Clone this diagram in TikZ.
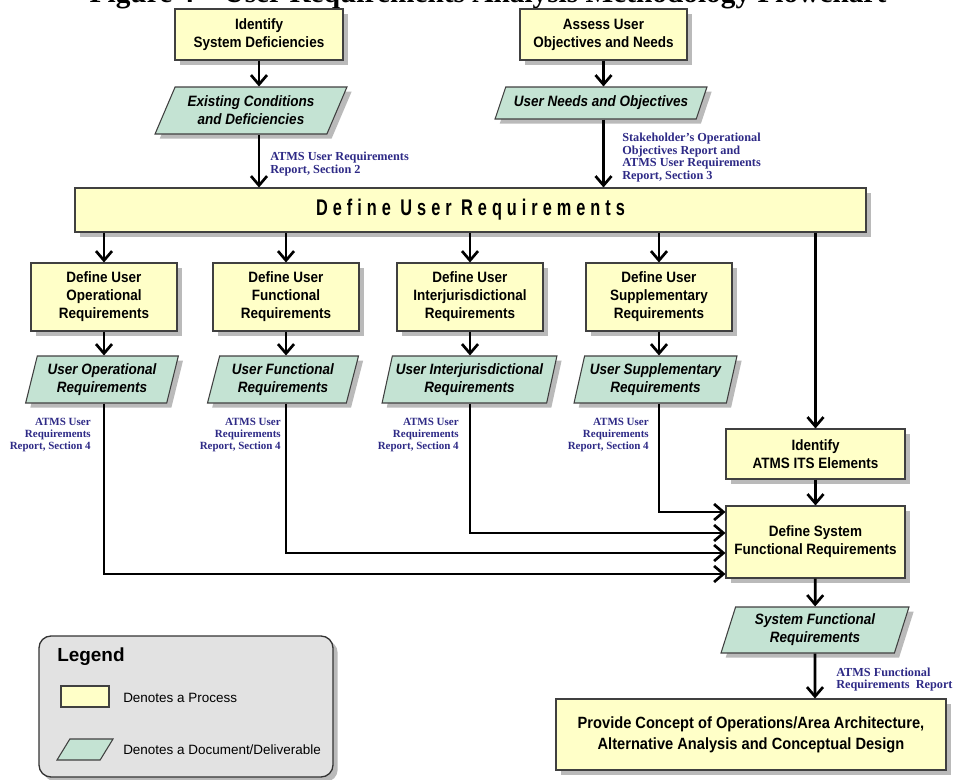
\documentclass[tikz,border=0pt]{standalone}
\usepackage{fontspec}
\setmainfont{Liberation Serif}
\newfontfamily\boxfont[FakeStretch=0.9]{Liberation Sans}
\newfontfamily\legfont{Liberation Sans}
\newfontfamily\headfont[FakeStretch=0.72,LetterSpace=22]{Liberation Sans}
\usetikzlibrary{arrows.meta,shapes.geometric,shadows}
\definecolor{procyellow}{HTML}{FFFFC8}
\definecolor{docgreen}{HTML}{C4E3D3}
\definecolor{refblue}{HTML}{2E2A86}
\definecolor{legendgray}{HTML}{E2E2E2}
\tikzset{
	shadowed/.style={drop shadow={shadow xshift=3.5pt,shadow yshift=-3.5pt,fill=black!45,opacity=0.6}},
	procbox/.style={rectangle,draw=black!75,line width=0.8pt,fill=procyellow,align=center,inner sep=0pt,
		font=\boxfont\bfseries\fontsize{11.25pt}{13.5pt}\selectfont},
	process/.style={procbox,shadowed},
	docbox/.style={trapezium,trapezium stretches=true,draw=black!75,line width=0.8pt,fill=docgreen,align=center,inner sep=0pt,
		font=\boxfont\bfseries\itshape\fontsize{11.25pt}{13.5pt}\selectfont},
	document/.style={docbox,shadowed},
	flow/.style={line width=2pt,-{Straight Barb[length=7pt,width=12pt]}},
	reflabel/.style={text=refblue,inner sep=0pt,font=\bfseries\fontsize{9.2pt}{9.6pt}\selectfont},
	smallref/.style={reflabel,anchor=east,align=right,font=\bfseries\fontsize{8.25pt}{9pt}\selectfont},
}
\begin{document}
\begin{tikzpicture}[x=0.75pt,y=-0.75pt]
	\useasboundingbox (0,0) rectangle (953,779);%Bildrand
	\node[anchor=base,font=\bfseries\fontsize{22pt}{24pt}\selectfont] (title) at (488,2.5) {Figure 4 – User Requirements Analysis Methodology Flowchart};%Titel, oben abgeschnitten
	\node[process,minimum width=126pt,minimum height=38.25pt] (sysdef) at (259,34.5) {Identify\\System Deficiencies};
	\node[process,minimum width=125.25pt,minimum height=38.25pt] (assess) at (603.5,34.5) {Assess User\\Objectives and Needs};
	\node[document,trapezium left angle=60,trapezium right angle=120,minimum width=144pt,minimum height=35.25pt] (existdoc) at (251,110.5) {Existing Conditions\\and Deficiencies};
	\node[document,trapezium left angle=55,trapezium right angle=125,minimum width=159pt,minimum height=24pt] (needsdoc) at (601,103) {User Needs and Objectives};
	\node[process,font=\headfont\bfseries\fontsize{17pt}{20pt}\selectfont,minimum width=593.25pt,minimum height=33pt] (userreq) at (470.5,210) {Define User Requirements};
	% vier Teilprozesse
	\node[process,minimum width=109.5pt,minimum height=51pt] (opdef) at (104,297) {Define User\\Operational\\Requirements};
	\node[process,minimum width=109.5pt,minimum height=51pt] (fundef) at (286,297) {Define User\\Functional\\Requirements};
	\node[process,minimum width=109.5pt,minimum height=51pt] (jurdef) at (470,297) {Define User\\Interjurisdictional\\Requirements};
	\node[process,minimum width=109.5pt,minimum height=51pt] (supdef) at (659,297) {Define User\\Supplementary\\Requirements};
	\node[document,trapezium left angle=73,trapezium right angle=107,minimum width=115.5pt,minimum height=35.25pt] (opdoc) at (102,379.5) {User Operational\\Requirements};
	\node[document,trapezium left angle=73,trapezium right angle=107,minimum width=114pt,minimum height=35.25pt] (fundoc) at (283,379.5) {User Functional\\Requirements};
	\node[document,trapezium left angle=73,trapezium right angle=107,minimum width=131.25pt,minimum height=35.25pt] (jurdoc) at (469.5,379.5) {User Interjurisdictional\\Requirements};
	\node[document,trapezium left angle=73,trapezium right angle=107,minimum width=122.25pt,minimum height=35.25pt] (supdoc) at (655.5,379.5) {User Supplementary\\Requirements};
	% rechte Spalte
	\node[process,minimum width=134.25pt,minimum height=37.5pt] (itselem) at (815.5,454) {Identify\\ATMS ITS Elements};
	\node[process,minimum width=134.25pt,minimum height=54pt] (sysfun) at (815.5,542) {Define System\\Functional Requirements};
	\node[document,trapezium left angle=71,trapezium right angle=109,minimum width=141pt,minimum height=34.5pt] (sysdoc) at (815,630) {System Functional\\Requirements};
	\node[process,font=\boxfont\bfseries\fontsize{12.2pt}{15.75pt}\selectfont,minimum width=292.5pt,minimum height=53.25pt] (concept) at (751,734.5) {Provide Concept of Operations/Area Architecture,\\Alternative Analysis and Conceptual Design};
	% Quellenangaben
	\node[reflabel,anchor=west,align=left] (refsec2) at (270,164) {ATMS User Requirements\\Report, Section 2};
	\node[reflabel,anchor=west,align=left] (refsec3) at (622,157.5) {Stakeholder's Operational\\Objectives Report and\\ATMS User Requirements\\Report, Section 3};
	\node[smallref] (refopsec4) at (91,435.5) {ATMS User\\Requirements\\Report, Section 4};
	\node[smallref] (reffunsec4) at (281,435.5) {ATMS User\\Requirements\\Report, Section 4};
	\node[smallref] (refjursec4) at (459,435.5) {ATMS User\\Requirements\\Report, Section 4};
	\node[smallref] (refsupsec4) at (649,435.5) {ATMS User\\Requirements\\Report, Section 4};
	\node[reflabel,anchor=west,align=left] (reffun) at (836,679.5) {ATMS Functional\\Requirements\ \ Report};
	% Pfeile
	\draw[flow] (sysdef) -- (sysdef |- existdoc.north);
	\draw[flow] (existdoc.south -| sysdef) -- (sysdef |- userreq.north);
	\draw[flow] (assess) -- (assess |- needsdoc.north);
	\draw[flow] (needsdoc.south -| assess) -- (assess |- userreq.north);
	\draw[flow] (userreq.south -| opdef) -- (opdef);
	\draw[flow] (userreq.south -| fundef) -- (fundef);
	\draw[flow] (userreq.south -| jurdef) -- (jurdef);
	\draw[flow] (userreq.south -| supdef) -- (supdef);
	\draw[flow] (userreq.south -| itselem) -- (itselem);
	\draw[flow] (opdef) -- (opdef |- opdoc.north);
	\draw[flow] (fundef) -- (fundef |- fundoc.north);
	\draw[flow] (jurdef) -- (jurdef |- jurdoc.north);
	\draw[flow] (supdef) -- (supdef |- supdoc.north);
	\draw[flow] (supdoc.south -| supdef) |- ([yshift=22.5pt]sysfun.west);
	\draw[flow] (jurdoc.south -| jurdef) |- ([yshift=6.75pt]sysfun.west);
	\draw[flow] (fundoc.south -| fundef) |- ([yshift=-8.25pt]sysfun.west);
	\draw[flow] (opdoc.south -| opdef) |- ([yshift=-24pt]sysfun.west);
	\draw[flow] (itselem) -- (sysfun);
	\draw[flow] (sysfun) -- (sysdoc);
	\draw[flow] (sysdoc) -- (sysdoc |- concept.north);
	% Legende
	\node[draw=black!80,line width=1pt,fill=legendgray,rounded corners=9pt,minimum width=220.5pt,minimum height=105.75pt,shadowed] (legend) at (186,706.5) {};
	\node[anchor=west,inner sep=0pt,font=\legfont\bfseries\fontsize{14.2pt}{16pt}\selectfont] (legtitle) at (57,657) {Legend};
	\node[procbox,minimum width=36pt,minimum height=15.75pt] (legproc) at (85,696.5) {};
	\node[docbox,inner sep=2pt,trapezium left angle=67,trapezium right angle=113,minimum width=42pt,minimum height=15.75pt] (legdoc) at (85,749.5) {};
	\node[anchor=west,inner sep=0pt,font=\legfont\fontsize{10.1pt}{12pt}\selectfont] (legproctext) at (123,698) {Denotes a Process};
	\node[anchor=west,inner sep=0pt,font=\legfont\fontsize{10.1pt}{12pt}\selectfont] (legdoctext) at (123,750) {Denotes a Document/Deliverable};
\end{tikzpicture}
\end{document}
